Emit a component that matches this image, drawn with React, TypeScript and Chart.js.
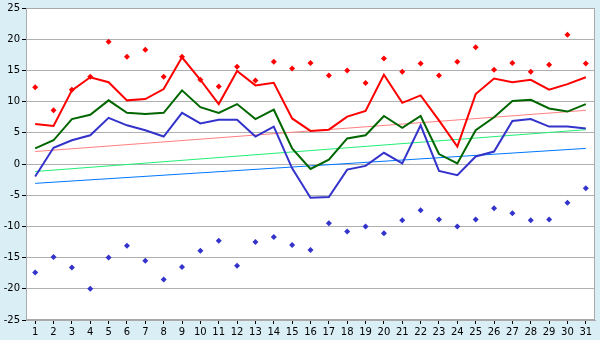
import React, { useEffect, useRef } from "react";
import { Chart, registerables } from "chart.js";

Chart.register(...registerables);

const days = ["1","2","3","4","5","6","7","8","9","10","11","12","13","14","15","16","17","18","19","20","21","22","23","24","25","26","27","28","29","30","31"];

const maxLine = [6.4, 6.1, 11.8, 13.9, 13.1, 10.2, 10.4, 12.0, 17.1, 13.5, 9.6, 14.9, 12.6, 13.0, 7.3, 5.3, 5.5, 7.6, 8.5, 14.3, 9.8, 11.0, 7.0, 2.8, 11.2, 13.7, 13.1, 13.5, 11.9, 12.8, 13.9];
const meanLine = [2.5, 3.8, 7.2, 7.9, 10.2, 8.2, 8.0, 8.2, 11.8, 9.1, 8.2, 9.6, 7.2, 8.7, 2.5, -0.8, 0.7, 4.1, 4.6, 7.7, 5.8, 7.7, 1.6, 0.1, 5.4, 7.5, 10.1, 10.3, 8.9, 8.4, 9.6];
const minLine = [-2.0, 2.6, 3.8, 4.6, 7.4, 6.2, 5.4, 4.4, 8.2, 6.5, 7.1, 7.1, 4.4, 6.0, -0.7, -5.4, -5.3, -0.9, -0.3, 1.8, 0.1, 6.2, -1.1, -1.8, 1.2, 2.0, 6.9, 7.2, 6.0, 6.0, 5.7];
const maxExtreme = [12.3, 8.6, 11.9, 14.0, 19.6, 17.2, 18.3, 14.0, 17.2, 13.5, 12.4, 15.6, 13.4, 16.4, 15.3, 16.2, 14.2, 15.0, 13.0, 16.9, 14.8, 16.1, 14.2, 16.4, 18.7, 15.1, 16.2, 14.8, 15.9, 20.7, 16.1];
const minExtreme = [-17.4, -14.9, -16.6, -20.0, -15.0, -13.1, -15.5, -18.5, -16.5, -13.9, -12.3, -16.3, -12.5, -11.7, -13.0, -13.8, -9.5, -10.8, -10.0, -11.1, -9.0, -7.4, -8.9, -10.0, -8.9, -7.1, -7.9, -9.0, -8.9, -6.2, -3.9];
const maxTrendEnds = [2.0, 8.6];
const meanTrendEnds = [-1.2, 5.5];
const minTrendEnds = [-3.1, 2.5];
const yTicks = [-25, -20, -15, -10, -5, 0, 5, 10, 15, 20, 25];

const trend = (ends: number[]) =>
  days.map((_, i) => (i === 0 ? ends[0] : i === days.length - 1 ? ends[1] : null));

const frame = {
  id: "frame",
  beforeDraw(chart: any) {
    const { ctx, chartArea: a } = chart;
    ctx.save();
    ctx.fillStyle = "#ffffff";
    ctx.fillRect(a.left, a.top, a.right - a.left, a.bottom - a.top);
    ctx.restore();
  },
  beforeDatasetsDraw(chart: any) {
    const { ctx, chartArea: a } = chart;
    ctx.save();
    ctx.strokeStyle = "#aaaaaa";
    ctx.lineWidth = 1;
    ctx.strokeRect(a.left + 0.5, a.top + 0.5, a.right - a.left - 1, a.bottom - a.top - 1);
    ctx.restore();
  },
};

export default function App() {
  const ref = useRef<HTMLCanvasElement>(null);
  useEffect(() => {
    if (!ref.current) return;
    const font = { family: "DejaVu Sans", size: 10 };
    const chart = new Chart(ref.current, {
      type: "line",
      data: {
        labels: days,
        datasets: [
          { data: maxExtreme, showLine: false, pointStyle: "rectRot", pointRadius: 3, pointBackgroundColor: "#ff0000", pointBorderWidth: 0, borderColor: "#ff0000", order: 0 },
          { data: minExtreme, showLine: false, pointStyle: "rectRot", pointRadius: 3, pointBackgroundColor: "#3333cc", pointBorderWidth: 0, borderColor: "#3333cc", order: 0 },
          { data: maxLine, borderColor: "#ff0000", borderWidth: 2, pointRadius: 0, tension: 0, order: 1 },
          { data: meanLine, borderColor: "#006600", borderWidth: 2, pointRadius: 0, tension: 0, order: 1 },
          { data: minLine, borderColor: "#3333cc", borderWidth: 2, pointRadius: 0, tension: 0, order: 1 },
          { data: trend(maxTrendEnds), borderColor: "#ff8080", borderWidth: 1, pointRadius: 0, spanGaps: true, order: 2 },
          { data: trend(meanTrendEnds), borderColor: "#22ee77", borderWidth: 1, pointRadius: 0, spanGaps: true, order: 2 },
          { data: trend(minTrendEnds), borderColor: "#0077ff", borderWidth: 1, pointRadius: 0, spanGaps: true, order: 2 },
        ],
      },
      options: {
        responsive: false,
        animation: false,
        layout: { padding: { left: 0, top: 5, right: 5, bottom: 0 } },
        plugins: { legend: { display: false }, tooltip: { enabled: false } },
        scales: {
          x: {
            offset: true,
            grid: { drawOnChartArea: false, tickLength: 4, tickColor: "#000000", offset: false },
            border: { color: "#aaaaaa" },
            ticks: { color: "#000000", font, padding: 2, maxRotation: 0, autoSkip: false },
            afterFit: (s: any) => { s.height = 20; },
          },
          y: {
            min: -25,
            max: 25,
            afterBuildTicks: (s: any) => { s.ticks = yTicks.map((v) => ({ value: v })); },
            grid: { color: "#b0b0b0", tickLength: 4, tickColor: "#000000" },
            border: { color: "#aaaaaa" },
            ticks: { color: "#000000", font, padding: 2 },
            afterFit: (s: any) => { s.width = 26; },
          },
        },
      },
      plugins: [frame],
    });
    return () => chart.destroy();
  }, []);
  return (
    <div style={{ position: "absolute", left: 0, top: 0, width: 600, height: 340, background: "#d9eef5" }}>
      <canvas ref={ref} width={600} height={340} style={{ display: "block" }} />
    </div>
  );
}
